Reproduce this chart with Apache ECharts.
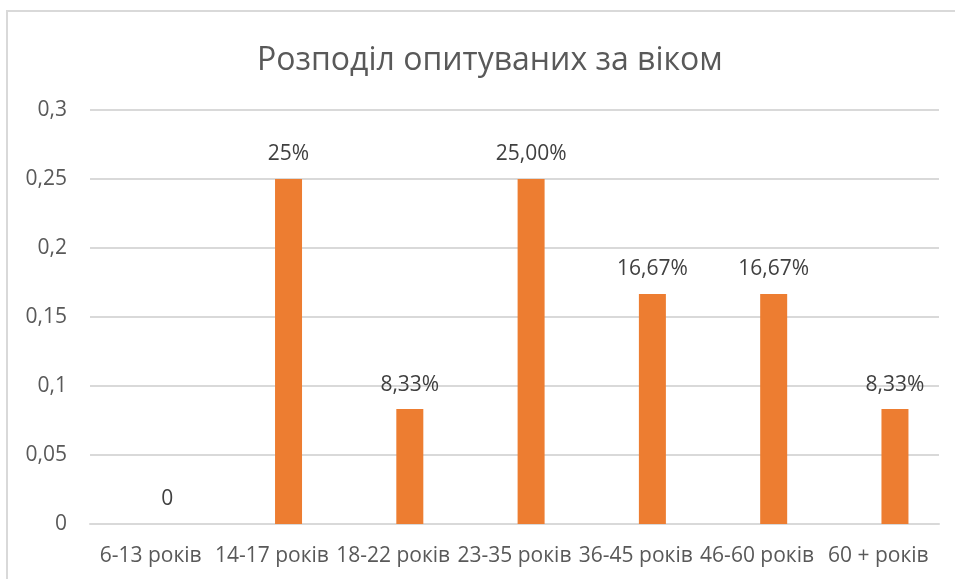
<!DOCTYPE html>
<html>
<head>
<meta charset="utf-8">
<script src="https://cdn.jsdelivr.net/npm/echarts@6/dist/echarts.min.js"></script>
<style>
html,body{margin:0;padding:0;background:#fff;}
#chart{width:955px;height:579px;}
</style>
</head>
<body>
<div id="chart"></div>
<script>
const titleText = 'Розподіл опитуваних за віком';
const categories = ['6-13 років', '14-17 років', '18-22 років', '23-35 років', '36-45 років', '46-60 років', '60 + років'];
const shares = [0, 0.25, 0.0833, 0.25, 0.1667, 0.1667, 0.0833];
const shareLabels = ['0', '25%', '8,33%', '25,00%', '16,67%', '16,67%', '8,33%'];
const emptySeries = ['-', '-', '-', '-', '-', '-', '-'];
const yTickValues = [0, 0.05, 0.1, 0.15, 0.2, 0.25, 0.3];
const yTickLabels = ['0', '0,05', '0,1', '0,15', '0,2', '0,25', '0,3'];

const FONT = '"Open Sans", sans-serif';
const chart = echarts.init(document.getElementById('chart'), null, {renderer: 'canvas'});
chart.setOption({
  animation: false,
  backgroundColor: '#ffffff',
  title: {
    text: titleText,
    left: 252,
    top: 40,
    textStyle: {fontFamily: FONT, fontSize: 32, fontWeight: 'normal', color: '#595959'}
  },
  graphic: [{
    type: 'rect',
    silent: true,
    shape: {x: 7, y: 11, width: 1000, height: 1000},
    style: {fill: 'none', stroke: '#d9d9d9', lineWidth: 2}
  }],
  grid: {left: 90, right: 16, top: 110, bottom: 55, containLabel: false},
  xAxis: {
    type: 'category',
    data: categories,
    axisLine: {show: true, lineStyle: {color: '#d9d9d9', width: 2}},
    axisTick: {show: false},
    axisLabel: {fontFamily: FONT, fontSize: 21, color: '#595959', margin: 22, interval: 0}
  },
  yAxis: {
    type: 'value',
    min: 0,
    max: 0.3,
    interval: 0.05,
    axisLine: {show: false},
    axisTick: {show: false},
    splitLine: {lineStyle: {color: '#d9d9d9', width: 2}},
    axisLabel: {
      fontFamily: FONT, fontSize: 21, color: '#595959', margin: 23,
      formatter: function (v) {
        const i = yTickValues.findIndex(t => Math.abs(t - v) < 1e-9);
        return i >= 0 ? yTickLabels[i] : String(v).replace('.', ',');
      }
    }
  },
  series: [
    {
      type: 'bar',
      name: 'placeholder',
      data: emptySeries,
      barWidth: 27,
      barGap: '23%',
      itemStyle: {color: 'transparent'}
    },
    {
      type: 'bar',
      name: 'Частка',
      data: shares,
      barWidth: 27,
      barGap: '23%',
      itemStyle: {color: '#ED7D31'},
      label: {
        show: true,
        position: 'top',
        distance: 14,
        fontFamily: FONT,
        fontSize: 21,
        color: '#404040',
        formatter: function (p) { return shareLabels[p.dataIndex]; }
      }
    }
  ]
});
</script>
</body>
</html>
